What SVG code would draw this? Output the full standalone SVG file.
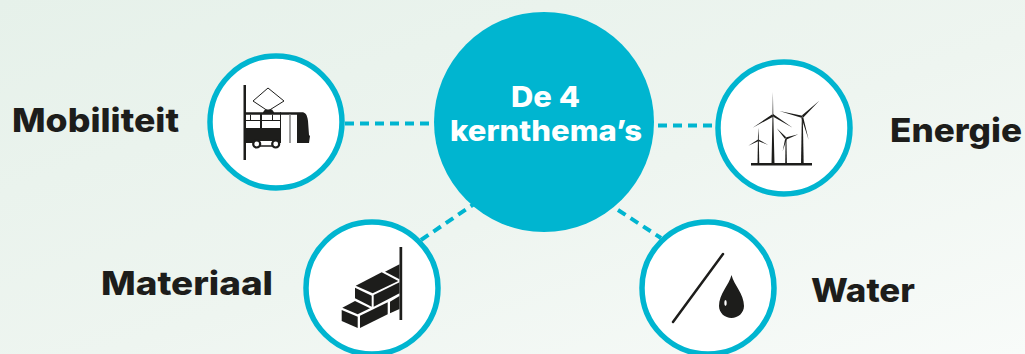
<svg xmlns="http://www.w3.org/2000/svg" width="1025" height="354" viewBox="0 0 1025 354">
<style>
.lbl{font-family:"Inter","Liberation Sans",sans-serif;font-weight:800;font-size:33px;fill:#1d1d1b}
.ctr{font-family:"Inter","Liberation Sans",sans-serif;font-weight:800;font-size:28px;fill:#fff;text-anchor:middle}
.ring{fill:#fff;stroke:#00b5d0;stroke-width:5.5}
.dash{stroke:#00b5d0;stroke-width:4;fill:none;stroke-dasharray:9 6}
.ink{fill:#1d1d1b}
.ln{stroke:#1d1d1b;fill:none}
</style>
<defs>
<linearGradient id="bg" x1="0" y1="0" x2="1" y2="1"><stop offset="0" stop-color="#e6f1ea"/><stop offset="0.55" stop-color="#eef5f0"/><stop offset="1" stop-color="#f8fbf9"/></linearGradient>
</defs>
<rect width="1025" height="354" fill="url(#bg)"/>
<g id="connectors">
<path class="dash" d="M345 123.500H434"/>
<path class="dash" d="M658 125.500H716"/>
<path class="dash" d="M421 240L474 204"/>
<path class="dash" d="M618 210L661 238"/>
</g>
<g id="centre">
<circle cx="544" cy="122" r="110" fill="#00b5d0"/>
<text class="ctr" x="545.500" y="107" textLength="69" lengthAdjust="spacingAndGlyphs">De 4</text>
<text class="ctr" x="546" y="141" textLength="192" lengthAdjust="spacingAndGlyphs">kernthema’s</text>
</g>
<g id="mobiliteit">
<circle class="ring" cx="276" cy="122" r="66"/>
<text class="lbl" x="12" y="132" textLength="167" lengthAdjust="spacingAndGlyphs">Mobiliteit</text>
<rect class="ink" x="243.500" y="85" width="2.500" height="75"/>
<path class="ln" stroke-width="1" d="M268 88L284 101L268 111L253 101Z"/>
<path class="ink" d="M246 112.300H263L265 109.500H272L274 112.300H302C305 112.300 307 114 308 121L309 135L310 136L309 143H297V114.700H246Z"/>
<path class="ink" d="M246 128H280V143H246Z"/>
<path class="ink" d="M260 114H262V128H260ZM280 112.300H281V143H280ZM246 120H280V121H246ZM250 114.700H251V120H250ZM272 114.700H273V120H272Z"/>
<rect x="289" y="114.700" width="2" height="28.300" fill="#a0a0a0"/>
<path fill="#fff" d="M260 141H273V145H260Z"/>
<path class="ln" stroke-width="1.500" d="M260 146H273"/>
<circle cx="256.700" cy="144" r="3.500" fill="#fff" stroke="#1d1d1b" stroke-width="2.200"/>
<circle cx="275.700" cy="144" r="3.500" fill="#fff" stroke="#1d1d1b" stroke-width="2.200"/>
</g>
<g id="energie">
<circle class="ring" cx="784" cy="128" r="66"/>
<text class="lbl" x="890" y="142" textLength="132" lengthAdjust="spacingAndGlyphs">Energie</text>
<rect class="ink" x="751" y="163" width="61" height="2.500"/>
<path class="ink" d="M771.500 164L772.500 115L772.900 92L773.300 115L774.500 164Z"/>
<path class="ink" d="M801 164L801.800 118L802.300 116.700L802.800 118L803.700 164Z"/>
<path class="ink" d="M785.200 164L785.600 138H786.400L786.900 164Z"/>
<path class="ink" d="M757.500 164L758 135L758.300 127.700L758.700 135L759.300 164Z"/>
<path class="ink" d="M772 114.500L752.700 127.700L773.500 116.500ZM773 114L792.700 127.700L772.800 116.500ZM802.500 115.700L779.300 111L802.300 118ZM801.500 115.700L819.300 100.700L803.300 117.500ZM801.300 117.500L803.300 117.500L808.700 140ZM786.500 137.500L776.700 128.300L785.500 139.500ZM785.500 137.500L798.300 134.300L786.500 139.500ZM785.300 138L786.800 139L782.700 151ZM758 139.500L748.300 145.700L758.700 141ZM758.500 139.500L768.300 145L758 141Z"/>
</g>
<g id="materiaal">
<circle class="ring" cx="372" cy="288" r="66"/>
<text class="lbl" x="101" y="295" textLength="172" lengthAdjust="spacingAndGlyphs">Materiaal</text>
<rect class="ink" x="399.500" y="247" width="2.700" height="73"/>
<path class="ink" d="M385 271.700L399.500 264.300V279.300L388 273.300Z"/>
<path class="ink" d="M355.700 285.700L381.700 272.300L398.300 281L372.700 293.300Z"/>
<path class="ink" d="M355 287.700L371.700 295.700V306.700L355 298.300Z"/>
<path class="ink" d="M373.700 295L399.500 282.300V293.300L373.700 306.700Z"/>
<path class="ink" d="M342.300 307.700L355 301L370 308.300L357.700 314.300Z"/>
<path class="ink" d="M341.700 310L357.700 316.700V328L341.700 321Z"/>
<path class="ink" d="M360 315.700L387.700 302.300V314.300L360 328Z"/>
<path class="ink" d="M390 301.700L399.500 296V309L390 313.300Z"/>
</g>
<g id="water">
<circle class="ring" cx="708" cy="288" r="66"/>
<text class="lbl" x="811" y="302" textLength="104" lengthAdjust="spacingAndGlyphs">Water</text>
<path class="ln" stroke-width="2.500" stroke-linecap="round" d="M723 254L673 322"/>
<path class="ink" d="M731.500 275C734 285 744 294 744 306C744 313 738 318 731.500 318C725 318 719 313 719 306C719 294 729 285 731.500 275Z"/>
<ellipse cx="725.500" cy="303" rx="1.200" ry="3" fill="#fff"/>
</g>
</svg>
